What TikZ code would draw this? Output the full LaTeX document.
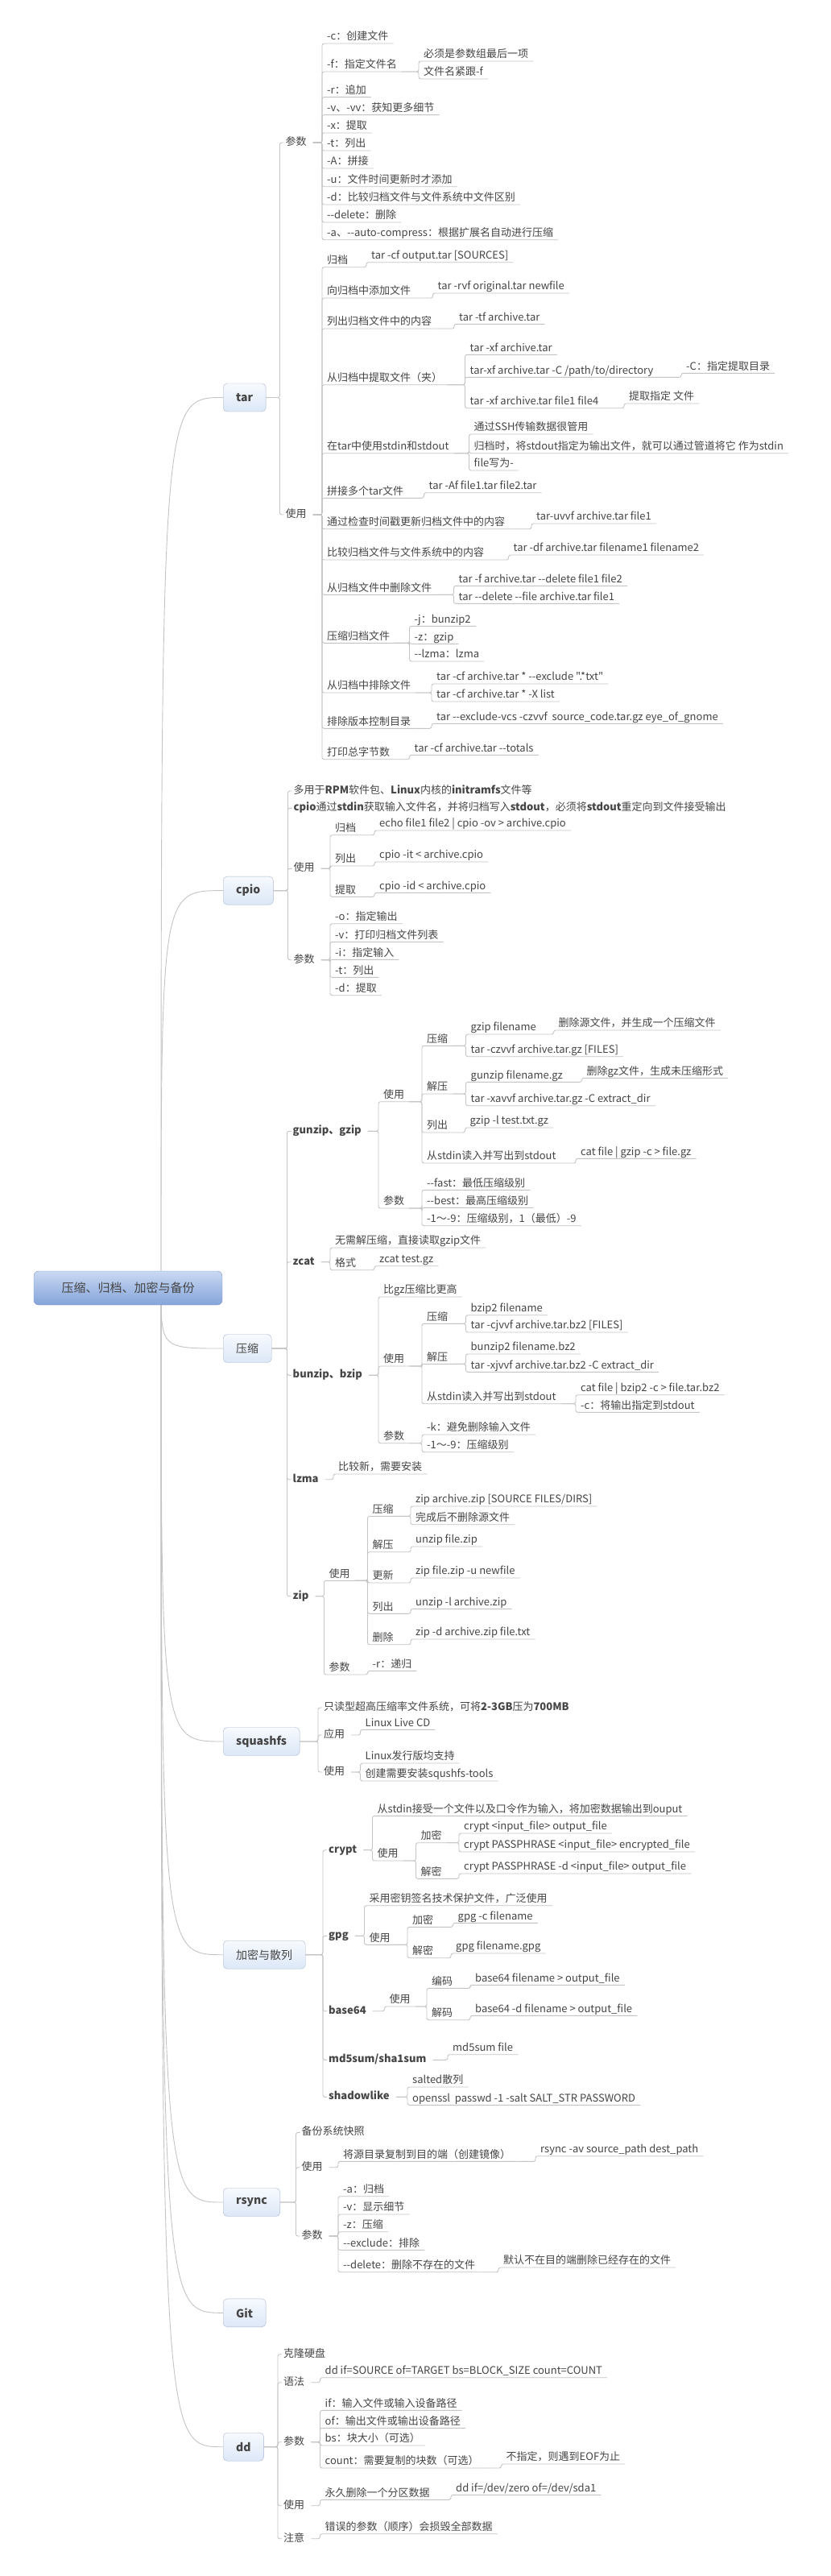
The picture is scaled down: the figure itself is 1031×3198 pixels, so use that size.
\documentclass[tikz,border=0pt]{standalone}
\usepackage{fontspec}
\newfontfamily\cnfont{Noto Sans CJK SC}
\usepackage{tikz}
\definecolor{linec}{HTML}{C4C4C4}
\definecolor{textc}{HTML}{454545}
\definecolor{boxline}{HTML}{A7B7CF}
\definecolor{boxtop}{HTML}{F7FAFE}
\definecolor{boxbot}{HTML}{DCE7F7}
\definecolor{rootline}{HTML}{7F97C2}
\definecolor{roottop}{HTML}{C9D9F2}
\definecolor{rootbot}{HTML}{84A4DA}
\begin{document}
\begin{tikzpicture}[
      x=1pt, y=-1pt,
      text=textc,
      font=\cnfont\fontsize{13}{15}\selectfont,
      root_node/.style={
         rounded corners=6pt,
         draw=rootline,
         top color=roottop,
         bottom color=rootbot,
         minimum width=234pt,
         minimum height=42pt,
         font=\cnfont\fontsize{15}{17}\selectfont},
      topic_box/.style={
         anchor=west,
         rounded corners=5pt,
         draw=boxline,
         top color=boxtop,
         bottom color=boxbot,
         minimum height=35pt,
         inner xsep=16pt,
         font=\cnfont\fontsize{14}{16}\selectfont},
      sub_node/.style={
         anchor=west,
         inner xsep=2pt,
         inner ysep=1pt,
         text height=10pt,
         text depth=3pt},
      leaf_node/.style={
         anchor=south west,
         inner xsep=6pt,
         inner ysep=1pt,
         text height=10pt,
         text depth=3pt},
      link_line/.style={
         draw=linec,
         line width=0.9pt,
         rounded corners=2.5pt}
]
      \useasboundingbox (0,0) rectangle (1031,3198);
      \fill[white] (0,0) rectangle (1031,3198);

      %main topics
      \node[topic_box] (tar) at (277,493.5) {\textbf{tar}};
      \node[topic_box] (cpio) at (277,1105.6) {\textbf{cpio}};
      \node[topic_box] (comp) at (277,1674) {压缩};
      \node[topic_box] (sq) at (277,2162) {\textbf{squashfs}};
      \node[topic_box] (enc) at (277,2426.7) {加密与散列};
      \node[topic_box] (rs) at (277,2734) {\textbf{rsync}};
      \node[topic_box] (git) at (277,2871.3) {\textbf{Git}};
      \node[topic_box] (dd) at (277,3037.7) {\textbf{dd}};

      %tar
      \node[sub_node] (tp) at (352.5,177) {参数};
      \node[sub_node] (tu) at (352.5,639) {使用};
      \node[leaf_node] (tp1) at (400,54) {-c：创建文件};
      \node[leaf_node] (tp2) at (400,89) {-f：指定文件名};
      \node[leaf_node] (tp2a) at (520,76) {必须是参数组最后一项};
      \node[leaf_node] (tp2b) at (520,98) {文件名紧跟-f};
      \node[leaf_node] (tp3) at (400,120.7) {-r：追加};
      \node[leaf_node] (tp4) at (400,142.7) {-v、-vv：获知更多细节};
      \node[leaf_node] (tp5) at (400,165) {-x：提取};
      \node[leaf_node] (tp6) at (400,187) {-t：列出};
      \node[leaf_node] (tp7) at (400,209) {-A：拼接};
      \node[leaf_node] (tp8) at (400,231.7) {-u：文件时间更新时才添加};
      \node[leaf_node] (tp9) at (400,254) {-d：比较归档文件与文件系统中文件区别};
      \node[leaf_node] (tp10) at (400,276) {--delete：删除};
      \node[leaf_node] (tp11) at (400,297.7) {-a、--auto-compress：根据扩展名自动进行压缩};

      \node[leaf_node] (tu1) at (400,331.7) {归档};
      \node[leaf_node] (tu1a) at (455,325.7) {tar -cf output.tar [SOURCES]};
      \node[leaf_node] (tu2) at (400,370) {向归档中添加文件};
      \node[leaf_node] (tu2a) at (537.5,364) {tar -rvf original.tar newfile};
      \node[leaf_node] (tu3) at (400,408) {列出归档文件中的内容};
      \node[leaf_node] (tu3a) at (564,402.3) {tar -tf archive.tar};
      \node[leaf_node] (tu4) at (400,477.7) {从归档中提取文件（夹）};
      \node[leaf_node] (tu4a) at (577.5,440.3) {tar -xf archive.tar};
      \node[leaf_node] (tu4b) at (577.5,468.3) {tar-xf archive.tar -C /path/to/directory};
      \node[leaf_node] (tu4b1) at (846,463.3) {-C：指定提取目录};
      \node[leaf_node] (tu4c) at (577.5,506.7) {tar -xf archive.tar file1 file4};
      \node[leaf_node] (tu4c1) at (775,501) {提取指定 文件};
      \node[leaf_node] (tu5) at (400,562.7) {在tar中使用stdin和stdout};
      \node[leaf_node] (tu5a) at (582.5,539) {通过SSH传输数据很管用};
      \node[leaf_node] (tu5b) at (582.5,562.7) {归档时，将stdout指定为输出文件，就可以通过管道将它 作为stdin};
      \node[leaf_node] (tu5c) at (582.5,584) {file写为-};
      \node[leaf_node] (tu6) at (400,618.3) {拼接多个tar文件};
      \node[leaf_node] (tu6a) at (526.5,611.7) {tar -Af file1.tar file2.tar};
      \node[leaf_node] (tu7) at (400,656.7) {通过检查时间戳更新归档文件中的内容};
      \node[leaf_node] (tu7a) at (660,650) {tar-uvvf archive.tar file1};
      \node[leaf_node] (tu8) at (400,695) {比较归档文件与文件系统中的内容};
      \node[leaf_node] (tu8a) at (631.5,689) {tar -df archive.tar filename1 filename2};
      \node[leaf_node] (tu9) at (400,738.3) {从归档文件中删除文件};
      \node[leaf_node] (tu9a) at (563.5,727.3) {tar -f archive.tar --delete file1 file2};
      \node[leaf_node] (tu9b) at (563.5,749.3) {tar --delete --file archive.tar file1};
      \node[leaf_node] (tu10) at (400,798.3) {压缩归档文件};
      \node[leaf_node] (tu10a) at (508.5,777.3) {-j：bunzip2};
      \node[leaf_node] (tu10b) at (508.5,799.3) {-z：gzip};
      \node[leaf_node] (tu10c) at (508.5,821) {--lzma：lzma};
      \node[leaf_node] (tu11) at (400,860) {从归档中排除文件};
      \node[leaf_node] (tu11a) at (536,849) {tar -cf archive.tar * --exclude ".*txt"};
      \node[leaf_node] (tu11b) at (536,871) {tar -cf archive.tar * -X list};
      \node[leaf_node] (tu12) at (400,904.3) {排除版本控制目录};
      \node[leaf_node] (tu12a) at (536,898.3) {tar --exclude-vcs -czvvf~ source\_code.tar.gz eye\_of\_gnome};
      \node[leaf_node] (tu13) at (400,942.7) {打印总字节数};
      \node[leaf_node] (tu13a) at (508.5,937.3) {tar -cf archive.tar --totals};

      %cpio
      \node[sub_node] (cp0) at (362.5,982) {多用于\textbf{RPM}软件包、\textbf{Linux}内核的\textbf{initramfs}文件等};
      \node[sub_node] (cp00) at (362.5,1003.3) {\textbf{cpio}通过\textbf{stdin}获取输入文件名，并将归档写入\textbf{stdout}，必须将\textbf{stdout}重定向到文件接受输出};
      \node[sub_node] (cu) at (362.5,1078.3) {使用};
      \node[sub_node] (cpp) at (362.5,1191.7) {参数};
      \node[leaf_node] (cu1) at (410,1036.7) {归档};
      \node[leaf_node] (cu1a) at (465,1031) {echo file1 file2 | cpio -ov > archive.cpio};
      \node[leaf_node] (cu2) at (410,1075) {列出};
      \node[leaf_node] (cu2a) at (465,1070) {cpio -it < archive.cpio};
      \node[leaf_node] (cu3) at (410,1113.3) {提取};
      \node[leaf_node] (cu3a) at (465,1108.3) {cpio -id < archive.cpio};
      \node[leaf_node] (cpp1) at (410,1146.7) {-o：指定输出};
      \node[leaf_node] (cpp2) at (410,1169.3) {-v：打印归档文件列表};
      \node[leaf_node] (cpp3) at (410,1191.3) {-i：指定输入};
      \node[leaf_node] (cpp4) at (410,1213.3) {-t：列出};
      \node[leaf_node] (cpp5) at (410,1235.7) {-d：提取};

      %compression
      \node[sub_node] (gz) at (361.5,1404.3) {\textbf{gunzip、gzip}};
      \node[sub_node] (zc) at (361.5,1566.7) {\textbf{zcat}};
      \node[sub_node] (bz) at (361.5,1707.3) {\textbf{bunzip、bzip}};
      \node[sub_node] (lz) at (361.5,1836.7) {\textbf{lzma}};
      \node[sub_node] (zp) at (361.5,1981.7) {\textbf{zip}};

      \node[leaf_node] (gzu) at (470,1367.7) {使用};
      \node[leaf_node] (gzp) at (470,1500) {参数};
      \node[leaf_node] (gzu1) at (524,1298.3) {压缩};
      \node[leaf_node] (gzu1a) at (578.5,1284) {gzip filename};
      \node[leaf_node] (gzu1a1) at (687.5,1279) {删除源文件，并生成一个压缩文件};
      \node[leaf_node] (gzu1b) at (578.5,1311.7) {tar -czvvf archive.tar.gz [FILES]};
      \node[leaf_node] (gzu2) at (524,1358) {解压};
      \node[leaf_node] (gzu2a) at (578.5,1343.3) {gunzip filename.gz};
      \node[leaf_node] (gzu2a1) at (722.5,1338.3) {删除gz文件，生成未压缩形式};
      \node[leaf_node] (gzu2b) at (578.5,1372.7) {tar -xavvf archive.tar.gz -C extract\_dir};
      \node[leaf_node] (gzu3) at (524,1406) {列出};
      \node[leaf_node] (gzu3a) at (577.5,1400) {gzip -l test.txt.gz};
      \node[leaf_node] (gzu4) at (524,1444) {从stdin读入并写出到stdout};
      \node[leaf_node] (gzu4a) at (715,1438.3) {cat file | gzip -c > file.gz};
      \node[leaf_node] (gzp1) at (524,1477.3) {--fast：最低压缩级别};
      \node[leaf_node] (gzp2) at (524,1499.3) {--best：最高压缩级别};
      \node[leaf_node] (gzp3) at (524,1521.7) {-1～-9：压缩级别，1（最低）-9};

      \node[leaf_node] (zc1) at (410,1549) {无需解压缩，直接读取gzip文件};
      \node[leaf_node] (zc2) at (410,1576.7) {格式};
      \node[leaf_node] (zc2a) at (465,1571.7) {zcat test.gz};

      \node[leaf_node] (bz1) at (470,1610) {比gz压缩比更高};
      \node[leaf_node] (bzu) at (470,1696) {使用};
      \node[leaf_node] (bzp) at (470,1791.7) {参数};
      \node[leaf_node] (bzu1) at (524,1643.3) {压缩};
      \node[leaf_node] (bzu1a) at (578.5,1632.7) {bzip2 filename};
      \node[leaf_node] (bzu1b) at (578.5,1654) {tar -cjvvf archive.tar.bz2 [FILES]};
      \node[leaf_node] (bzu2) at (524,1693.3) {解压};
      \node[leaf_node] (bzu2a) at (578.5,1681) {bunzip2 filename.bz2};
      \node[leaf_node] (bzu2b) at (578.5,1703.3) {tar -xjvvf archive.tar.bz2 -C extract\_dir};
      \node[leaf_node] (bzu3) at (524,1742.7) {从stdin读入并写出到stdout};
      \node[leaf_node] (bzu3a) at (715,1731.7) {cat file | bzip2 -c > file.tar.bz2};
      \node[leaf_node] (bzu3b) at (715,1753.3) {-c：将输出指定到stdout};
      \node[leaf_node] (bzp1) at (524,1781) {-k：避免删除输入文件};
      \node[leaf_node] (bzp2) at (524,1802.7) {-1～-9：压缩级别};

      \node[leaf_node] (lz1) at (414,1830) {比较新，需要安装};

      \node[leaf_node] (zpu) at (402.5,1962.3) {使用};
      \node[leaf_node] (zpp) at (402.5,2079) {参数};
      \node[leaf_node] (zpu1) at (456.5,1882.3) {压缩};
      \node[leaf_node] (zpu1a) at (510,1870) {zip archive.zip [SOURCE FILES/DIRS]};
      \node[leaf_node] (zpu1b) at (510,1892.7) {完成后不删除源文件};
      \node[leaf_node] (zpu2) at (456.5,1926.7) {解压};
      \node[leaf_node] (zpu2a) at (510,1920) {unzip file.zip};
      \node[leaf_node] (zpu3) at (456.5,1965) {更新};
      \node[leaf_node] (zpu3a) at (510,1959) {zip file.zip -u newfile};
      \node[leaf_node] (zpu4) at (456.5,2003.3) {列出};
      \node[leaf_node] (zpu4a) at (510,1997.3) {unzip -l archive.zip};
      \node[leaf_node] (zpu5) at (456.5,2041.7) {删除};
      \node[leaf_node] (zpu5a) at (510,2035) {zip -d archive.zip file.txt};
      \node[leaf_node] (zpp1) at (456.5,2074.3) {-r：递归};

      %squashfs
      \node[sub_node] (sq0) at (400,2120) {只读型超高压缩率文件系统，可将\textbf{2-3GB}压为\textbf{700MB}};
      \node[sub_node] (sqa) at (400,2154) {应用};
      \node[sub_node] (squ) at (400,2200) {使用};
      \node[leaf_node] (sqa1) at (447.5,2147.3) {Linux Live CD};
      \node[leaf_node] (squ1) at (447.5,2189) {Linux发行版均支持};
      \node[leaf_node] (squ2) at (447.5,2211) {创建需要安装squshfs-tools};

      %crypt and hash
      \node[sub_node] (cr) at (406,2296.7) {\textbf{crypt}};
      \node[sub_node] (gp) at (406,2403.3) {\textbf{gpg}};
      \node[sub_node] (b64) at (406,2496.7) {\textbf{base64}};
      \node[sub_node] (md) at (406,2557.3) {\textbf{md5sum/sha1sum}};
      \node[sub_node] (sh) at (406,2603.3) {\textbf{shadowlike}};
      \node[leaf_node] (cr1) at (462.5,2254.3) {从stdin接受一个文件以及口令作为输入，将加密数据输出到ouput};
      \node[leaf_node] (cru) at (462.5,2310) {使用};
      \node[leaf_node] (cru1) at (516.5,2287.7) {加密};
      \node[leaf_node] (cru1a) at (570,2276) {crypt <input\_file> output\_file};
      \node[leaf_node] (cru1b) at (570,2299) {crypt PASSPHRASE <input\_file> encrypted\_file};
      \node[leaf_node] (cru2) at (516.5,2332.3) {解密};
      \node[leaf_node] (cru2a) at (570,2326) {crypt PASSPHRASE -d <input\_file> output\_file};
      \node[leaf_node] (gp1) at (452.5,2365.7) {采用密钥签名技术保护文件，广泛使用};
      \node[leaf_node] (gpu) at (452.5,2414.3) {使用};
      \node[leaf_node] (gpu1) at (506,2392.3) {加密};
      \node[leaf_node] (gpu1a) at (562.5,2387.3) {gpg -c filename};
      \node[leaf_node] (gpu2) at (506,2430.7) {解密};
      \node[leaf_node] (gpu2a) at (560,2425) {gpg filename.gpg};
      \node[leaf_node] (b64u) at (477.5,2491) {使用};
      \node[leaf_node] (b64u1) at (530,2468.3) {编码};
      \node[leaf_node] (b64u1a) at (584,2464.3) {base64 filename > output\_file};
      \node[leaf_node] (b64u2) at (530,2507.7) {解码};
      \node[leaf_node] (b64u2a) at (584,2502.3) {base64 -d filename > output\_file};
      \node[leaf_node] (md1) at (556,2550.7) {md5sum file};
      \node[leaf_node] (sh1) at (506,2591) {salted散列};
      \node[leaf_node] (sh2) at (506,2613.3) {openssl~ passwd -1 -salt SALT\_STR PASSWORD};

      %rsync
      \node[sub_node] (rs0) at (372.5,2647.3) {备份系统快照};
      \node[sub_node] (rsu) at (372.5,2690.7) {使用};
      \node[sub_node] (rsp) at (372.5,2776) {参数};
      \node[leaf_node] (rsu1) at (420,2683.3) {将源目录复制到目的端（创建镜像）};
      \node[leaf_node] (rsu1a) at (665,2676.7) {rsync -av source\_path dest\_path};
      \node[leaf_node] (rsp1) at (420,2726.7) {-a：归档};
      \node[leaf_node] (rsp2) at (420,2749) {-v：显示细节};
      \node[leaf_node] (rsp3) at (420,2770.7) {-z：压缩};
      \node[leaf_node] (rsp4) at (420,2793.3) {--exclude：排除};
      \node[leaf_node] (rsp5) at (420,2820.7) {--delete：删除不存在的文件};
      \node[leaf_node] (rsp5a) at (619,2815) {默认不在目的端删除已经存在的文件};

      %dd
      \node[sub_node] (dd0) at (350,2922.7) {克隆硬盘};
      \node[sub_node] (ddy) at (350,2957.7) {语法};
      \node[sub_node] (ddp) at (350,3031.7) {参数};
      \node[sub_node] (ddu) at (350,3110.7) {使用};
      \node[sub_node] (ddn) at (350,3151.7) {注意};
      \node[leaf_node] (ddy1) at (397.5,2951.7) {dd if=SOURCE of=TARGET bs=BLOCK\_SIZE count=COUNT};
      \node[leaf_node] (ddp1) at (397.5,2992.3) {if：输入文件或输入设备路径};
      \node[leaf_node] (ddp2) at (397.5,3014.3) {of：输出文件或输出设备路径};
      \node[leaf_node] (ddp3) at (397.5,3036) {bs：块大小（可选）};
      \node[leaf_node] (ddp4) at (397.5,3064) {count：需要复制的块数（可选）};
      \node[leaf_node] (ddp4a) at (622.5,3059) {不指定，则遇到EOF为止};
      \node[leaf_node] (ddu1) at (397.5,3103.3) {永久删除一个分区数据};
      \node[leaf_node] (ddu1a) at (560,3097.3) {dd if=/dev/zero of=/dev/sda1};
      \node[leaf_node] (ddn1) at (397.5,3145.7) {错误的参数（顺序）会损毁全部数据};

    \foreach \i/\j in {% topic/sub topic
      tar/tp, tar/tu, cpio/cp0, cpio/cp00, cpio/cu, cpio/cpp,
      comp/gz, comp/zc, comp/bz, comp/lz, comp/zp,
      sq/sq0, sq/sqa, sq/squ,
      enc/cr, enc/gp, enc/b64, enc/md, enc/sh,
      rs/rs0, rs/rsu, rs/rsp,
      dd/dd0, dd/ddy, dd/ddp, dd/ddu, dd/ddn}
    \draw [link_line] (\i.east) -| ([xshift=-5pt]\j.west) -- (\j.west);

    \foreach \i/\j in {% sub topic/leaf
      tp/tp1, tp/tp2, tp/tp3, tp/tp4, tp/tp5, tp/tp6, tp/tp7, tp/tp8, tp/tp9, tp/tp10, tp/tp11,
      tu/tu1, tu/tu2, tu/tu3, tu/tu4, tu/tu5, tu/tu6, tu/tu7, tu/tu8, tu/tu9, tu/tu10, tu/tu11, tu/tu12, tu/tu13,
      cu/cu1, cu/cu2, cu/cu3, cpp/cpp1, cpp/cpp2, cpp/cpp3, cpp/cpp4, cpp/cpp5,
      gz/gzu, gz/gzp, zc/zc1, zc/zc2, bz/bz1, bz/bzu, bz/bzp, lz/lz1, zp/zpu, zp/zpp,
      sqa/sqa1, squ/squ1, squ/squ2,
      cr/cr1, cr/cru, gp/gp1, gp/gpu, b64/b64u, md/md1, sh/sh1, sh/sh2,
      rsu/rsu1, rsp/rsp1, rsp/rsp2, rsp/rsp3, rsp/rsp4, rsp/rsp5,
      ddy/ddy1, ddp/ddp1, ddp/ddp2, ddp/ddp3, ddp/ddp4, ddu/ddu1, ddn/ddn1}
    \draw [link_line] ([xshift=6pt]\i.east) -| (\j.south west) -- (\j.south east);

    \foreach \i/\j in {% leaf/leaf
      tp2/tp2a, tp2/tp2b, tu1/tu1a, tu2/tu2a, tu3/tu3a,
      tu4/tu4a, tu4/tu4b, tu4/tu4c, tu4b/tu4b1, tu4c/tu4c1,
      tu5/tu5a, tu5/tu5b, tu5/tu5c, tu6/tu6a, tu7/tu7a, tu8/tu8a,
      tu9/tu9a, tu9/tu9b, tu10/tu10a, tu10/tu10b, tu10/tu10c,
      tu11/tu11a, tu11/tu11b, tu12/tu12a, tu13/tu13a,
      cu1/cu1a, cu2/cu2a, cu3/cu3a,
      gzu/gzu1, gzu/gzu2, gzu/gzu3, gzu/gzu4,
      gzu1/gzu1a, gzu1a/gzu1a1, gzu1/gzu1b, gzu2/gzu2a, gzu2a/gzu2a1, gzu2/gzu2b,
      gzu3/gzu3a, gzu4/gzu4a, gzp/gzp1, gzp/gzp2, gzp/gzp3, zc2/zc2a,
      bzu/bzu1, bzu/bzu2, bzu/bzu3, bzu1/bzu1a, bzu1/bzu1b, bzu2/bzu2a, bzu2/bzu2b,
      bzu3/bzu3a, bzu3/bzu3b, bzp/bzp1, bzp/bzp2,
      zpu/zpu1, zpu/zpu2, zpu/zpu3, zpu/zpu4, zpu/zpu5,
      zpu1/zpu1a, zpu1/zpu1b, zpu2/zpu2a, zpu3/zpu3a, zpu4/zpu4a, zpu5/zpu5a, zpp/zpp1,
      cru/cru1, cru/cru2, cru1/cru1a, cru1/cru1b, cru2/cru2a,
      gpu/gpu1, gpu/gpu2, gpu1/gpu1a, gpu2/gpu2a,
      b64u/b64u1, b64u/b64u2, b64u1/b64u1a, b64u2/b64u2a,
      rsu1/rsu1a, rsp5/rsp5a, ddp4/ddp4a, ddu1/ddu1a}
    \draw [link_line] (\i.south east) -| (\j.south west) -- (\j.south east);

      %root
      \coordinate (rc) at (200,1599);
    \foreach \j in {tar,cpio,comp,sq,enc,rs,git,dd}
    \draw [link_line] (rc) .. controls (rc |- \j.west) .. (\j.west);
      \node[root_node] (root) at (159,1599) {压缩、归档、加密与备份};

\end{tikzpicture}
\end{document}
